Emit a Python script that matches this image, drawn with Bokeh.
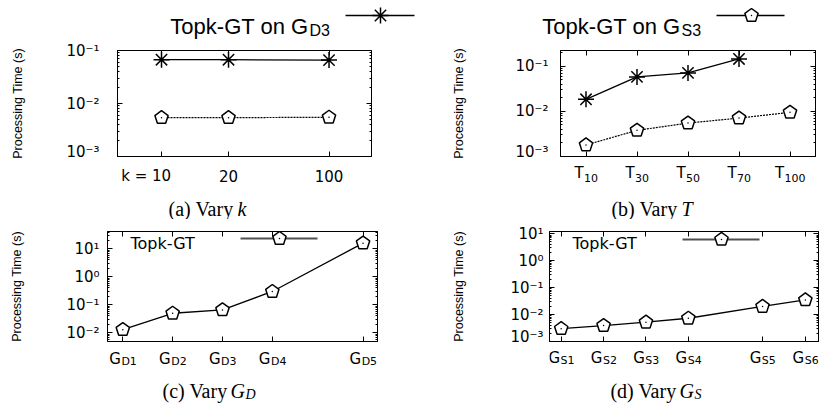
import math
from bokeh.plotting import figure
from bokeh.models import Range1d, FixedTicker, LinearAxis, LogAxis, Label, LinearScale
from bokeh.layouts import column, row
from bokeh.embed import file_html
from bokeh.resources import INLINE

# ---------------- data ----------------
# (a) Vary k
a_x = [1, 2, 3.5]
a_tick_labels = ["k = 10", "20", "100"]
a_topk_gd3 = [0.067, 0.067, 0.066]
a_topk_gs3 = [0.0054, 0.0054, 0.0055]

# (b) Vary T
b_x = [1, 2, 3, 4, 5]
b_tick_main = ["T", "T", "T", "T", "T"]
b_tick_sub = ["10", "30", "50", "70", "100"]
b_topk_gd3 = [0.0185, 0.058, 0.071, 0.145]
b_topk_gs3 = [0.0018, 0.0038, 0.0055, 0.0071, 0.0095]

# (c) Vary G_D
c_x = [1, 2, 3, 4, 5.82]
c_tick_main = ["G", "G", "G", "G", "G"]
c_tick_sub = ["D1", "D2", "D3", "D4", "D5"]
c_topk = [0.013, 0.05, 0.066, 0.3, 16]

# (d) Vary G_S
d_x = [1, 2, 3, 4, 5.75, 6.76]
d_tick_main = ["G", "G", "G", "G", "G", "G"]
d_tick_sub = ["S1", "S2", "S3", "S4", "S5", "S6"]
d_topk = [0.003, 0.0039, 0.0052, 0.0073, 0.02, 0.035]

y_tick_text = {0.001: "10⁻³", 0.01: "10⁻²", 0.1: "10⁻¹", 1: "10⁰", 10: "10¹"}

legend_main = "Topk-GT on G"
legend_subs = ["D3", "S3"]
inner_legend = "Topk-GT"
y_title = "Processing Time (s)"

# ---------------- styling helpers ----------------
TICK_FONT = "DejaVu Sans"
SANS = "Liberation Sans"
SERIF = "Liberation Serif"
CHAR_W = {"T": 0.611, "G": 0.775, "D": 0.770, "S": 0.635, "k": 0.579, " ": 0.318, "=": 0.838}


def tw(s, size):
    return sum(CHAR_W.get(ch, 0.636) for ch in s) * size


def minor_list(lo, hi):
    out = []
    for e in range(int(math.floor(math.log10(lo))) - 1, int(math.ceil(math.log10(hi))) + 1):
        for m in range(2, 10):
            v = m * 10 ** e
            if lo < v < hi:
                out.append(v)
    return out


def style_axis(ax, show):
    ax.major_tick_in = 5
    ax.major_tick_out = 0
    ax.minor_tick_in = 2
    ax.minor_tick_out = 0
    ax.axis_line_color = "black"
    ax.major_tick_line_color = "black"
    ax.minor_tick_line_color = "black"
    if not show:
        ax.major_label_text_color = None
        ax.major_label_text_font_size = "1px"
        ax.major_label_standoff = 0


def base_fig(W, H, xr, yr, left, right, top, bottom, log=False):
    kw = dict(y_axis_type="log") if log else {}
    p = figure(width=W, height=H, x_range=xr, y_range=yr,
               x_axis_location=None, y_axis_location=None,
               toolbar_location=None, output_backend="svg", title=None,
               min_border_left=left, min_border_right=right,
               min_border_top=top, min_border_bottom=bottom, **kw)
    p.grid.visible = False
    p.background_fill_color = "white"
    p.border_fill_color = "white"
    return p


def make_panel(W, H, left, top, fw, fh, xr, yr, xticks, yticks, ylab_standoff, ytitle_standoff):
    p = base_fig(W, H, Range1d(*xr), Range1d(*yr), left, W - left - fw, top, H - top - fh, log=True)
    p.outline_line_color = "black"
    p.outline_line_width = 1
    p.extra_x_ranges = {"px": Range1d(0, fw)}
    p.extra_y_ranges = {"px": Range1d(0, fh)}
    p.extra_x_scales = {"px": LinearScale()}
    p.extra_y_scales = {"px": LinearScale()}

    yt = FixedTicker(ticks=yticks, minor_ticks=minor_list(yr[0], yr[1]))
    ly = LogAxis(ticker=yt, major_label_overrides={t: y_tick_text[t] for t in yticks})
    style_axis(ly, True)
    ly.major_label_text_font = TICK_FONT
    ly.major_label_text_font_size = "15px"
    ly.major_label_text_color = "black"
    ly.major_label_standoff = ylab_standoff
    ly.axis_label = y_title
    ly.axis_label_text_font = SANS
    ly.axis_label_text_font_size = "12.5px"
    ly.axis_label_text_font_style = "normal"
    ly.axis_label_text_color = "black"
    ly.axis_label_standoff = ytitle_standoff
    p.add_layout(ly, "left")
    ry = LogAxis(ticker=yt)
    style_axis(ry, False)
    p.add_layout(ry, "right")

    xt = FixedTicker(ticks=xticks)
    bx = LinearAxis(ticker=xt)
    style_axis(bx, False)
    p.add_layout(bx, "below")
    tx = LinearAxis(ticker=xt)
    style_axis(tx, False)
    p.add_layout(tx, "above")
    return p


def make_strip(panel, W, H, left, fw):
    s = base_fig(W, H, panel.x_range, Range1d(0, H), left, W - left - fw, 0, 0)
    s.outline_line_color = None
    return s


def pentagons(p, xs, ys, **kw):
    p.ngon(xs, ys, radius=7, radius_units="screen", n=5, angle=0,
           fill_color="white", line_color="black", line_width=1.5, **kw)
    p.scatter(xs, ys, marker="dot", size=6, color="black", **kw)


def stars(p, xs, ys, **kw):
    p.scatter(xs, ys, marker="asterisk", size=16, line_color="black", line_width=1.5, **kw)


def slabel(p, x, y, text, align, size, font=TICK_FONT, style="normal",
           x_units="data", y_units="data", x_offset=0):
    p.add_layout(Label(x=x, y=y, x_units=x_units, y_units=y_units, text=text,
                       text_align=align, text_baseline="alphabetic", x_offset=x_offset,
                       text_font=font, text_font_style=style, text_font_size=size,
                       text_color="black"))


def sub_ticks(s, xs, mains, subs, y_main, y_sub):
    for x, m, sb in zip(xs, mains, subs):
        wm, ws = tw(m, 15), tw(sb, 11)
        edge = -(wm + ws) / 2 + wm
        slabel(s, x, y_main, m, "right", "15px", x_offset=edge)
        slabel(s, x, y_sub, sb, "left", "11px", x_offset=edge + 0.5)


def caption(s, roman, ital, sub, xr_px, xi_px, xs_px, yb, ysub):
    slabel(s, xr_px, yb, roman, "right", "20px", font=SERIF, x_units="screen")
    slabel(s, xi_px, yb, ital, "left", "20px", font=SERIF, style="italic", x_units="screen")
    if sub:
        slabel(s, xs_px, ysub, sub, "left", "14px", font=SERIF, style="italic", x_units="screen")


def inner_leg(p):
    slabel(p, 23, 98, inner_legend, "left", "16px", x_units="screen", y_units="screen")
    p.line([133, 210], [103, 103], x_range_name="px", y_range_name="px",
           line_color="#505050", line_width=2)
    pentagons(p, [172], [103], x_range_name="px", y_range_name="px")


# ---------------- legend strip ----------------
LEG_H = 40
leg = base_fig(828, LEG_H, Range1d(0, 828), Range1d(0, LEG_H), 0, 0, 0, 0)
leg.outline_line_color = None
for gx, sub, lx0, lx1, mx, kind in [(308, legend_subs[0], 345, 414, 380, "star"),
                                    (680, legend_subs[1], 716, 784, 751, "pent")]:
    leg.add_layout(Label(x=gx, y=LEG_H - 26, text=legend_main, text_align="right",
                         text_baseline="alphabetic", text_font=SANS, text_font_size="22px",
                         text_color="black"))
    leg.add_layout(Label(x=gx + 1, y=LEG_H - 30, text=sub, text_align="left",
                         text_baseline="alphabetic", text_font=SANS, text_font_size="16px",
                         text_color="black"))
    leg.line([lx0, lx1], [LEG_H - 15, LEG_H - 15], line_color="black", line_width=1.5)
    if kind == "star":
        stars(leg, [mx], [LEG_H - 15])
    else:
        pentagons(leg, [mx], [LEG_H - 15])

# ---------------- (a) ----------------
pa = make_panel(414, 120, 117, 10, 254, 106, (0.343, 4.134), (0.001, 0.1),
                a_x, [0.001, 0.01, 0.1], 18, 38)
pa.line(a_x, a_topk_gd3, line_color="black", line_width=1.3)
stars(pa, a_x, a_topk_gd3)
pa.line(a_x, a_topk_gs3, line_color="black", line_width=1.2, line_dash="2 1")
pentagons(pa, a_x, a_topk_gs3)
sa = make_strip(pa, 414, 59, 117, 254)
for x, t in zip(a_x, a_tick_labels):
    num = t.split(" ")[-1]
    slabel(sa, x, 44, t, "right", "15px", x_offset=tw(num, 15) / 2)
caption(sa, "(a) Vary", "k", None, 116, 120, None, 11, None)

# ---------------- (b) ----------------
pb = make_panel(414, 120, 146, 10, 255, 106, (0.5, 5.5), (0.001, 0.223),
                b_x, [0.001, 0.01, 0.1], 12, 46)
pb.line(b_x[:len(b_topk_gd3)], b_topk_gd3, line_color="black", line_width=1.3)
stars(pb, b_x[:len(b_topk_gd3)], b_topk_gd3)
pb.line(b_x, b_topk_gs3, line_color="black", line_width=1.2, line_dash="2 1")
pentagons(pb, b_x, b_topk_gs3)
sb = make_strip(pb, 414, 59, 146, 255)
sub_ticks(sb, b_x, b_tick_main, b_tick_sub, 47, 42)
caption(sb, "(b) Vary", "T", None, 117, 121, None, 11, None)

# ---------------- (c) ----------------
pc = make_panel(414, 126, 107, 12, 270, 110, (0.693, 6.11), (0.0049, 41.7),
                c_x, [0.01, 0.1, 1, 10], 8, 39)
pc.line(c_x, c_topk, line_color="black", line_width=1.3)
pentagons(pc, c_x, c_topk)
inner_leg(pc)
sc = make_strip(pc, 414, 58, 107, 270)
sub_ticks(sc, c_x, c_tick_main, c_tick_sub, 45, 42)
caption(sc, "(c) Vary", "G", "D", 120, 123, 138, 13, 9)

# ---------------- (d) ----------------
pd_ = make_panel(414, 126, 135, 11, 269, 111, (0.724, 7.07), (0.001, 12.2),
                 d_x, [0.001, 0.01, 0.1, 1, 10], 6, 41)
pd_.line(d_x, d_topk, line_color="black", line_width=1.3)
pentagons(pd_, d_x, d_topk)
inner_leg(pd_)
sd = make_strip(pd_, 414, 58, 135, 269)
sub_ticks(sd, d_x, d_tick_main, d_tick_sub, 46, 43)
caption(sd, "(d) Vary", "G", "S", 127, 130, 145, 13, 9)

layout = column(leg, row(pa, pb), row(sa, sb), row(pc, pd_), row(sc, sd))
open("out.html", "w").write(file_html(layout, INLINE))
